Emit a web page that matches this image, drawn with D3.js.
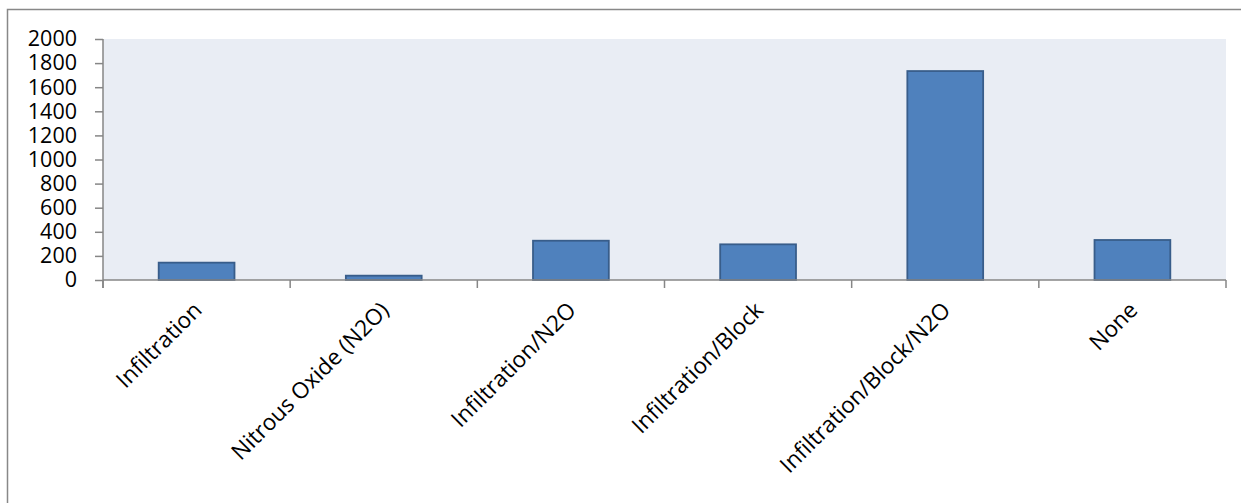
<html>
<head>
  <meta charset="utf-8">
  <script src="https://cdnjs.cloudflare.com/ajax/libs/d3/7.8.5/d3.min.js"></script>
  <style>
    body { margin: 0; background: #fff; }
    text { font-family: "Open Sans", sans-serif; fill: #000; }
  </style>
</head>
<body>
  <div id="viz"></div>
  <script>
    // chart data
    var categories = ["Infiltration", "Nitrous Oxide (N2O)", "Infiltration/N2O",
                      "Infiltration/Block", "Infiltration/Block/N2O", "None"];
    var values = [144, 36, 326, 296, 1734, 332];
    var yTicks = [0, 200, 400, 600, 800, 1000, 1200, 1400, 1600, 1800, 2000];

    var width = 1241, height = 503;
    var plotLeft = 103, plotRight = 1226, plotTop = 39, plotBottom = 280;

    var svg = d3.select("#viz").append("svg")
        .attr("width", width)
        .attr("height", height);

    // outer chart border
    svg.append("rect")
        .attr("x", 7.5).attr("y", 9.5)
        .attr("width", width).attr("height", height)
        .attr("fill", "none")
        .attr("stroke", "#888888")
        .attr("stroke-width", 1.5);

    var x = d3.scaleBand().domain(categories).range([plotLeft, plotRight]);
    var y = d3.scaleLinear().domain([0, 2000]).range([plotBottom, plotTop]);

    // plot area
    svg.append("rect")
        .attr("x", plotLeft).attr("y", plotTop)
        .attr("width", plotRight - plotLeft).attr("height", plotBottom - plotTop)
        .attr("fill", "#E9EDF4");

    // bars
    var barW = x.bandwidth() * 0.405;
    svg.selectAll("rect.bar")
        .data(values)
        .enter().append("rect")
        .attr("class", "bar")
        .attr("x", function (d, i) { return x(categories[i]) + (x.bandwidth() - barW) / 2; })
        .attr("y", function (d) { return y(d); })
        .attr("width", barW)
        .attr("height", function (d) { return plotBottom - y(d); })
        .attr("fill", "#4F81BD")
        .attr("stroke", "#385D8A")
        .attr("stroke-width", 1.8);

    // y axis
    var yAxis = svg.append("g")
        .attr("transform", "translate(" + plotLeft + ",0)")
        .call(d3.axisLeft(y).tickValues(yTicks).tickSize(8).tickPadding(18).tickFormat(d3.format("d")));
    yAxis.selectAll("line, path").attr("stroke", "#868686").attr("stroke-width", 1.5);
    yAxis.select("path").attr("d", "M0," + (plotBottom + 8) + "V" + plotTop);
    yAxis.selectAll("text").style("font-size", "21.5px").attr("fill", "#000");

    // x axis with ticks at band boundaries
    var xAxis = svg.append("g");
    xAxis.append("line")
        .attr("x1", plotLeft).attr("x2", plotRight)
        .attr("y1", plotBottom).attr("y2", plotBottom)
        .attr("stroke", "#868686").attr("stroke-width", 1.5);
    xAxis.selectAll("line.tick")
        .data(categories.concat([null]))
        .enter().append("line")
        .attr("class", "tick")
        .attr("x1", function (d, i) { return plotLeft + i * x.bandwidth(); })
        .attr("x2", function (d, i) { return plotLeft + i * x.bandwidth(); })
        .attr("y1", plotBottom).attr("y2", plotBottom + 8)
        .attr("stroke", "#868686").attr("stroke-width", 1.5);

    xAxis.selectAll("text")
        .data(categories)
        .enter().append("text")
        .attr("transform", function (d) {
            return "translate(" + (x(d) + x.bandwidth() / 2 + 1) + "," + (plotBottom + 26) + ") rotate(-45)";
        })
        .attr("text-anchor", "end")
        .attr("dy", "0.35em")
        .style("font-size", "22.5px")
        .text(function (d) { return d; });
  </script>
</body>
</html>
